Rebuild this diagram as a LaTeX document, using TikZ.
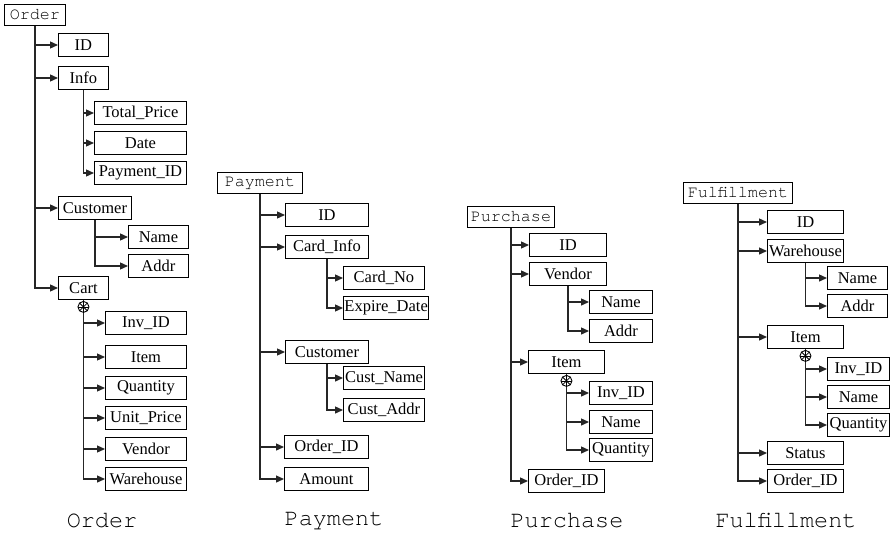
\documentclass[tikz,border=0pt]{standalone}
\usepackage{fontspec}
\setmainfont{Liberation Serif}
\setmonofont{texgyrecursor-regular.otf}
\usepackage{tikz}
\usetikzlibrary{arrows.meta, positioning}

\begin{document}
\begin{tikzpicture}[
			x=1pt, y=-1pt,
			field/.style = {rectangle, draw, line width=0.9pt, inner xsep=1pt, inner ysep=0pt,
					minimum height=23, anchor=west, font=\fontsize{16.5}{18}\selectfont},
			root/.style = {field, minimum height=21, font=\fontsize{16.7}{18}\selectfont\ttfamily},
			caption/.style = {font=\fontsize{23.5}{26}\selectfont\ttfamily},
			many/.style = {circle, draw, fill=white, line width=0.9pt, inner sep=0pt,
					minimum size=11, below=1pt of #1,
					path picture={\foreach \a in {0,45,90,135}
							\draw[line width=0.8pt] (path picture bounding box.center) +(\a:6) -- +(\a+180:6);}},
			line/.style = {draw, line width=1.3pt, black!85, -{Triangle[length=8pt,width=7pt]}},
		]
		\useasboundingbox (0,0) rectangle (890,533);

		% Order
		\node [root, minimum width=61] (ohead) at (4,15) {Order};
		\node [field, minimum width=50] (oid) at (58,45) {ID};
		\node [field, minimum width=50] (oinfo) at (58,78) {Info};
		\node [field, minimum width=92] (ototal) at (94,113) {Total\_Price};
		\node [field, minimum width=92] (odate) at (94,143) {Date};
		\node [field, minimum width=92] (opay) at (94,173) {Payment\_ID};
		\node [field, minimum width=73] (ocust) at (58,208) {Customer};
		\node [field, minimum width=60] (oname) at (128,237) {Name};
		\node [field, minimum width=60] (oaddr) at (128,266) {Addr};
		\node [field, minimum width=50] (ocart) at (58,288) {Cart};
		\node [field, minimum width=81] (oinv) at (105,323) {Inv\_ID};
		\node [field, minimum width=81] (oitem) at (105,357) {Item};
		\node [field, minimum width=81] (oqty) at (105,388) {Quantity};
		\node [field, minimum width=81] (ounit) at (105,418) {Unit\_Price};
		\node [field, minimum width=81] (ovendor) at (105,449) {Vendor};
		\node [field, minimum width=81] (oware) at (105,479) {Warehouse};

		% Payment
		\node [root, minimum width=85] (phead) at (217,183) {Payment};
		\node [field, minimum width=83] (pid) at (285,215) {ID};
		\node [field, minimum width=83] (pcard) at (285,247) {Card\_Info};
		\node [field, minimum width=81] (pcardno) at (343,278) {Card\_No};
		\node [field, minimum width=81] (pexpire) at (343,308) {Expire\_Date};
		\node [field, minimum width=83] (pcust) at (285,352) {Customer};
		\node [field, minimum width=81] (pcname) at (343,378) {Cust\_Name};
		\node [field, minimum width=81] (pcaddr) at (343,410) {Cust\_Addr};
		\node [field, minimum width=84] (porder) at (284,447) {Order\_ID};
		\node [field, minimum width=84] (pamount) at (284,479) {Amount};

		% Purchase
		\node [root, minimum width=87] (uhead) at (467,217) {Purchase};
		\node [field, minimum width=77] (uid) at (529,245) {ID};
		\node [field, minimum width=77] (uvendor) at (529,274) {Vendor};
		\node [field, minimum width=63] (uname) at (589,302) {Name};
		\node [field, minimum width=63] (uaddr) at (589,331) {Addr};
		\node [field, minimum width=76] (uitem) at (528,362) {Item};
		\node [field, minimum width=63] (uinv) at (589,393) {Inv\_ID};
		\node [field, minimum width=63] (uiname) at (589,422) {Name};
		\node [field, minimum width=63] (uqty) at (589,450) {Quantity};
		\node [field, minimum width=76] (uorder) at (528,481) {Order\_ID};

		% Fulfillment
		\node [root, minimum width=109] (fhead) at (683,193) {Fulfillment};
		\node [field, minimum width=76] (fid) at (767,222) {ID};
		\node [field, minimum width=76] (fware) at (767,251) {Warehouse};
		\node [field, minimum width=60] (fname) at (827,278) {Name};
		\node [field, minimum width=60] (faddr) at (827,306) {Addr};
		\node [field, minimum width=76] (fitem) at (767,337) {Item};
		\node [field, minimum width=62] (finv) at (827,369) {Inv\_ID};
		\node [field, minimum width=62] (finame) at (827,397) {Name};
		\node [field, minimum width=62] (fqty) at (827,425) {Quantity};
		\node [field, minimum width=76] (fstatus) at (767,453) {Status};
		\node [field, minimum width=76] (forder) at (767,481) {Order\_ID};

		% Draw arrows
		\foreach \p/\c in {ohead/oid, ohead/oinfo, ohead/ocust, ohead/ocart,
				oinfo/ototal, oinfo/odate, oinfo/opay, ocust/oname, ocust/oaddr,
				ocart/oinv, ocart/oitem, ocart/oqty, ocart/ounit, ocart/ovendor, ocart/oware,
				phead/pid, phead/pcard, phead/pcust, phead/porder, phead/pamount,
				pcard/pcardno, pcard/pexpire, pcust/pcname, pcust/pcaddr,
				uhead/uid, uhead/uvendor, uhead/uitem, uhead/uorder,
				uvendor/uname, uvendor/uaddr, uitem/uinv, uitem/uiname, uitem/uqty,
				fhead/fid, fhead/fware, fhead/fitem, fhead/fstatus, fhead/forder,
				fware/fname, fware/faddr, fitem/finv, fitem/finame, fitem/fqty}
		\path [line] (\p.south) |- (\c.west);

		% Repeated groups
		\node [many=ocart] (ocartmark) {};
		\node [many=uitem] (uitemmark) {};
		\node [many=fitem] (fitemmark) {};

		% Captions
		\node [caption] (ocap) at (102,521) {Order};
		\node [caption] (pcap) at (334,521) {Payment};
		\node [caption] (ucap) at (567,521) {Purchase};
		\node [caption] (fcap) at (786,521) {Fulfillment};
	\end{tikzpicture}
\end{document}
